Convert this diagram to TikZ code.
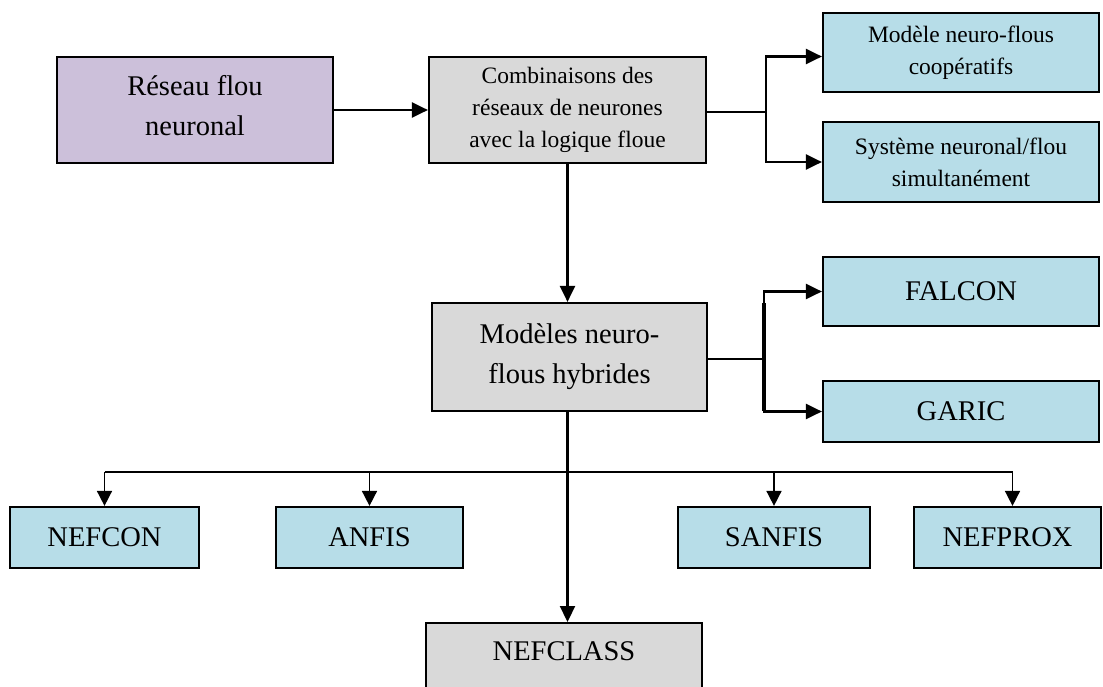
\documentclass[tikz,border=0pt]{standalone}
\usepackage{fontspec}
\setmainfont{Liberation Serif}
\usetikzlibrary{arrows.meta,calc}

\definecolor{lilac}{HTML}{CCC0DA}
\definecolor{boxgrey}{HTML}{D9D9D9}
\definecolor{boxblue}{HTML}{B7DDE8}

\newcommand{\bigtxt}{\fontsize{28.5}{40}\selectfont}
\newcommand{\smalltxt}{\fontsize{23.5}{32}\selectfont}

\begin{document}
\begin{tikzpicture}[x=1pt,y=-1pt,
  box/.style={draw=black, line width=2.2pt, inner sep=0pt, align=center},
  conn/.style={line width=2.2pt},
  arr/.style={line width=2.2pt, -{Triangle[length=16pt,width=15pt]}},
  thin conn/.style={line width=1.6pt},
  thin arr/.style={line width=1.6pt, -{Triangle[length=15pt,width=15pt]}}]

\useasboundingbox (0,0) rectangle (1103,686);
\clip (0,0) rectangle (1103,686);

% top row
\node[box, fill=lilac, minimum width=276pt, minimum height=106pt, font=\bigtxt]
  (res) at (195,110) {Réseau flou\\neuronal\rule[-10pt]{0pt}{1pt}};
\node[box, fill=boxgrey, minimum width=277pt, minimum height=106pt, font=\smalltxt]
  (comb) at (567.5,110) {Combinaisons des\\réseaux de neurones\\avec la logique floue};
\node[box, fill=boxblue, minimum width=276pt, minimum height=79pt, font=\smalltxt]
  (coop) at (961,52.5) {Modèle neuro-flous\\coopératifs};
\node[box, fill=boxblue, minimum width=276pt, minimum height=80pt, font=\smalltxt]
  (sys) at (961,162) {Système neuronal/flou\\simultanément};

% middle row
\node[box, fill=boxgrey, minimum width=275pt, minimum height=108pt, font=\bigtxt]
  (mod) at (569.5,357) {Modèles neuro-\\flous hybrides};
\node[box, fill=boxblue, minimum width=276pt, minimum height=69pt, font=\bigtxt]
  (falcon) at (961,291.5) {FALCON};
\node[box, fill=boxblue, minimum width=276pt, minimum height=61pt, font=\bigtxt]
  (garic) at (961,411.5) {GARIC};

% bottom row
\node[box, fill=boxblue, minimum width=189pt, minimum height=61pt, font=\bigtxt]
  (nefcon) at (104.5,537.5) {NEFCON};
\node[box, fill=boxblue, minimum width=187pt, minimum height=61pt, font=\bigtxt]
  (anfis) at (369.5,537.5) {ANFIS};
\node[box, fill=boxblue, minimum width=192pt, minimum height=61pt, font=\bigtxt]
  (sanfis) at (774,537.5) {SANFIS};
\node[box, fill=boxblue, minimum width=187pt, minimum height=61pt, font=\bigtxt]
  (nefprox) at (1007.5,537.5) {NEFPROX};
\node[box, fill=boxgrey, anchor=north, minimum width=276pt, inner ysep=0pt,
  text height=37pt, text depth=80pt, font=\bigtxt]
  (nefclass) at (564,622) {NEFCLASS};

% branch points
\coordinate (b1) at (766,112);
\coordinate (b2) at (764,359);
\coordinate (bus) at (566,472);

% connectors
\draw[arr] (res.east) -- (comb.west);
\draw[conn] (comb.east |- b1) -- (b1);
\draw[arr] (b1) |- ($(coop.west)+(0,4)$);
\draw[arr] (b1) |- (sys.west);

\draw[arr] (comb.south) -- (comb.south |- mod.north);

\draw[conn] (mod.east |- b2) -- (b2);
\draw[arr] (b2) |- (falcon.west);
\draw[arr] (b2) |- (garic.west);
\draw[line width=3.6pt] ($(b2)+(0,-56)$) -- ($(b2)+(0,52)$);

\draw[arr] (comb.south |- mod.south) -- (comb.south |- nefclass.north);
\draw[thin conn] (nefcon.north |- bus) -- ($(nefprox.north |- bus)+(5,0)$);
\draw[thin arr] (nefcon.north |- bus) -- (nefcon.north);
\draw[thin arr] (anfis.north |- bus) -- (anfis.north);
\draw[thin arr] (sanfis.north |- bus) -- (sanfis.north);
\draw[thin arr] ($(nefprox.north |- bus)+(5,0)$) -- ($(nefprox.north)+(5,0)$);

\end{tikzpicture}
\end{document}
